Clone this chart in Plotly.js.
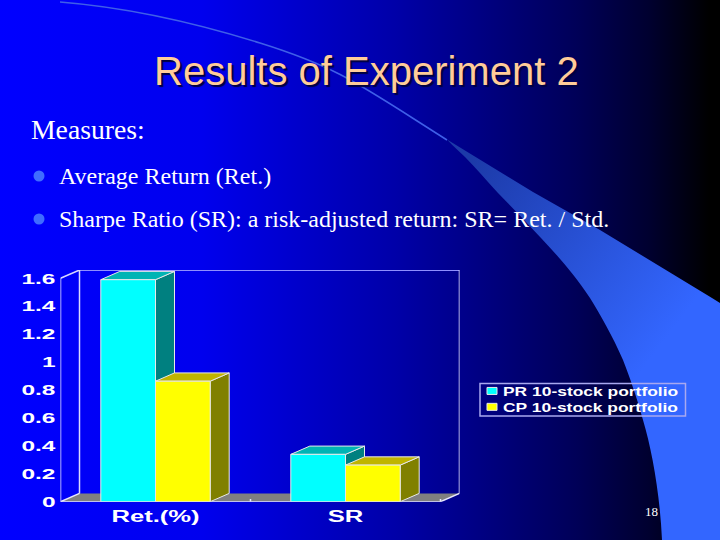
<!DOCTYPE html>
<html><head><meta charset="utf-8">
<script src="https://cdn.plot.ly/plotly-3.0.0.min.js"></script>
<style>
html,body{margin:0;padding:0;width:720px;height:540px;overflow:hidden;background:#000}
#bg{position:absolute;left:0;top:0}
#chart{position:absolute;left:0;top:0;width:720px;height:540px}
</style></head>
<body>
<svg id="bg" width="720" height="540" viewBox="0 0 720 540">
<defs>
<linearGradient id="g" x1="0" x2="1" y1="0" y2="0">
<stop offset="0" stop-color="#0000ff"/><stop offset="0.28" stop-color="#0000ee"/>
<stop offset="0.55" stop-color="#0000a8"/><stop offset="0.8" stop-color="#000058"/>
<stop offset="0.9" stop-color="#000030"/><stop offset="0.985" stop-color="#000000"/><stop offset="1" stop-color="#000000"/>
</linearGradient>
<linearGradient id="s" gradientUnits="userSpaceOnUse" x1="470" y1="160" x2="680" y2="320">
<stop offset="0" stop-color="#1c3aa8"/><stop offset="1" stop-color="#3366ff"/>
</linearGradient>
</defs>
<rect width="720" height="540" fill="url(#g)"/>
<path d="M60,2 C110,6 180,18 260,43 S360,85 447,140" fill="none" stroke="#3f5fe8" stroke-width="1.5"/>
<path d="M447,139.5 L533,192 L600,230 L712,298 L720,303 L720,540 L662,540 C660,495 652,450 643,420 C636,395 630,378 623,360 C612,335 601,316 590,298 C574,274 558,256 541,238 C526,222 513,208 498,193 C486,180 476,168 465,157 C459,151 453,146 447,139.5 Z" fill="url(#s)"/>
</svg>
<div id="chart"></div>
<script>
var categories = ["Ret.(%)", "SR"];
var prValues = [1.59, 0.339];
var cpValues = [0.863, 0.262];
var seriesNames = ["PR 10-stock portfolio", "CP 10-stock portfolio"];
var tickValues = [0, 0.2, 0.4, 0.6, 0.8, 1, 1.2, 1.4, 1.6];
var tickLabels = ["0", "0.2", "0.4", "0.6", "0.8", "1", "1.2", "1.4", "1.6"];

var W = 720, H = 540;
var px = {l: 60.5, r: 459.5, b: 501.7, t: 270};
var catPx = 190, unitPx = 139.8;
var dxD = 19 / catPx, dyD = 8.3 / unitPx;
var barD = 54.7 / catPx;
function P(x, y) { return {x: x / W, y: 1 - y / H}; }

var shapes = [];
function poly(pts, fill, line, width, layer) {
  shapes.push({type: "path", layer: layer || "below", xref: "x", yref: "y",
    path: "M" + pts.map(function (p) { return p[0] + "," + p[1]; }).join("L") + "Z",
    fillcolor: fill, line: {color: line, width: width === undefined ? 1 : width}});
}
function seg(a, b, color, w) {
  shapes.push({type: "line", layer: "below", xref: "x", yref: "y", x0: a[0], y0: a[1], x1: b[0], y1: b[1], line: {color: color, width: w || 1.5}});
}
var x0 = -0.5, x1 = 1.5, yMax = 1.6;
var wall = "#8f8fff";
poly([[x0, 0], [x0 + dxD, dyD], [x1 + dxD, dyD], [x1, 0]], "#808080", "rgba(0,0,0,0)", 0);
seg([x0, 0], [x1, 0], "#e8e8ff");
seg([x0, 0], [x0, yMax], "#e8e8ff");
seg([x0, yMax], [x0 + dxD, yMax + dyD], "#d8d8ff");
seg([x0 + dxD, yMax + dyD], [x1 + dxD, yMax + dyD], wall, 2);
seg([x0 + dxD, yMax + dyD], [x0 + dxD, dyD], "#d8d8ff");
seg([x1 + dxD, yMax + dyD], [x1 + dxD, dyD], "#e8e8ff");
seg([x1, 0], [x1 + dxD, dyD], "#e8e8ff");
seg([x0, 0], [x0 + dxD, dyD], "#e8e8ff");
seg([0.5, 0], [0.5, 0.02], "#e8e8ff");
seg([x1, 0], [x1, 0.02], "#e8e8ff");

function box3d(i, offset, v, sideColor, topColor) {
  var a = i + offset * barD, b = a + barD;
  poly([[b, 0], [b + dxD, dyD], [b + dxD, v + dyD], [b, v]], sideColor, "#e8e8e8");
  poly([[a, v], [a + dxD, v + dyD], [b + dxD, v + dyD], [b, v]], topColor, "#e8e8e8");
}
categories.forEach(function (c, i) { box3d(i, -1, prValues[i], "#008080", "#00b4b4"); });
categories.forEach(function (c, i) { box3d(i, 0, cpValues[i], "#808000", "#bfb400"); });

var lb1 = P(480, 383.5), lb2 = P(685.5, 416);
shapes.push({type: "rect", layer: "below", xref: "paper", yref: "paper", x0: lb1.x, y0: lb1.y, x1: lb2.x, y1: lb2.y,
  line: {color: "#a8a8f0", width: 1.5}, fillcolor: "rgba(0,0,0,0)"});
[176, 219].forEach(function (y) {
  var a = P(33.5, y - 5.5), b = P(44.5, y + 5.5);
  shapes.push({type: "circle", layer: "below", xref: "paper", yref: "paper", x0: a.x, y0: a.y, x1: b.x, y1: b.y, fillcolor: "#3f6cff", line: {width: 0}});
});

function note(text, x, y, font, anchor) {
  var p = P(x, y);
  return {text: text, xref: "paper", yref: "paper", x: p.x, y: p.y, xanchor: anchor || "left", yanchor: "middle", showarrow: false, font: font};
}
var serif = "Liberation Serif", sans = "Liberation Sans";
var annotations = [
  note("Results of Experiment 2", 152, 71, {family: sans, size: 40, color: "#ffcc99", shadow: "2px 2px 1px #000040"}),
  note("Measures:", 29, 130, {family: serif, size: 27.7, color: "#ffffff"}),
  note("Average Return (Ret.)", 57, 176, {family: serif, size: 24, color: "#ffffff"}),
  note("Sharpe Ratio (SR): a risk-adjusted return: SR= Ret. / Std.", 57, 219, {family: serif, size: 24, color: "#ffffff"}),
  note("18", 643, 511, {family: serif, size: 13, color: "#ffffff"})
];

var traces = [
  {type: "bar", name: seriesNames[0], x: [0, 1], y: prValues, width: barD, offset: -barD, marker: {color: "#00ffff", line: {color: "#e8e8e8", width: 1}}},
  {type: "bar", name: seriesNames[1], x: [0, 1], y: cpValues, width: barD, offset: 0, marker: {color: "#ffff00", line: {color: "#e8e8e8", width: 1}}}
];
var layout = {
  width: W, height: H, margin: {l: 0, r: 0, t: 0, b: 0, pad: 0},
  paper_bgcolor: "rgba(0,0,0,0)", plot_bgcolor: "rgba(0,0,0,0)",
  barmode: "group", showlegend: true, hovermode: false,
  xaxis: {domain: [px.l / W, px.r / W], range: [x0, x1 + dxD], tickmode: "array", tickvals: [0, 1], ticktext: categories,
    showgrid: false, zeroline: false, showline: false, ticks: "outside", ticklen: 0, tickcolor: "rgba(0,0,0,0)", tickfont: {family: sans, size: 16, weight: 700, color: "#ffffff"}},
  yaxis: {domain: [1 - px.b / H, 1 - px.t / H], range: [0, yMax + dyD], tickmode: "array", tickvals: tickValues, ticktext: tickLabels,
    showgrid: false, zeroline: false, showline: false, ticks: "outside", ticklen: 1, tickcolor: "rgba(0,0,0,0)", tickfont: {family: sans, size: 15, weight: 700, color: "#ffffff"}},
  legend: {x: 463 / W, y: 1 - 376 / H, xanchor: "left", yanchor: "top", bgcolor: "rgba(0,0,0,0)", borderwidth: 0,
    font: {family: sans, size: 13, weight: 700, color: "#ffffff"}},
  shapes: shapes, annotations: annotations
};
function stretch(selector, factor) {
  document.querySelectorAll(selector).forEach(function (t) {
    t.setAttribute("textLength", t.getComputedTextLength() * factor);
    t.setAttribute("lengthAdjust", "spacingAndGlyphs");
  });
}
Plotly.newPlot("chart", traces, layout, {displayModeBar: false, staticPlot: true}).then(function () {
  document.querySelectorAll(".legendsymbols .legendpoints path").forEach(function (el) {
    el.setAttribute("d", "M-5,3.5H5V-3.5H-5Z");
    el.setAttribute("transform", "translate(29,0)");
  });
  stretch(".ytick text", 1.63);
  stretch(".xtick text", 1.6);
  stretch(".legendtext", 1.34);
  var box = document.querySelector(".legend .scrollbox");
  if (box) box.removeAttribute("clip-path");
  var rows = document.querySelectorAll(".legend .traces");
  if (rows[1]) {
    var m = /translate\(([^,]+),\s*([^)]+)\)/.exec(rows[1].getAttribute("transform"));
    if (m) rows[1].setAttribute("transform", "translate(" + m[1] + "," + (parseFloat(m[2]) - 4) + ")");
  }
});
</script>
</body></html>
